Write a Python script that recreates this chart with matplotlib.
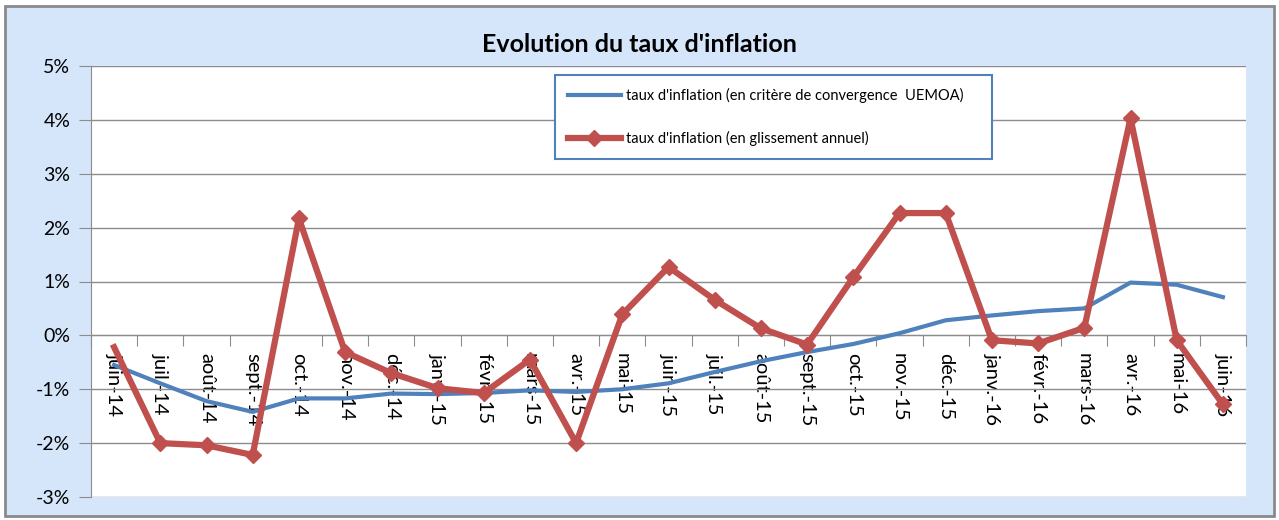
import matplotlib
matplotlib.use("Agg")
import matplotlib.pyplot as plt
from matplotlib.patches import Rectangle
from matplotlib.legend_handler import HandlerLine2D
from matplotlib.ticker import FuncFormatter

plt.rcParams['font.family'] = ['Lato', 'DejaVu Sans']

months = ["juin-14", "juil.-14", "août-14", "sept.-14", "oct.-14", "nov.-14", "déc.-14",
          "janv.-15", "févr.-15", "mars-15", "avr.-15", "mai-15", "juin-15", "juil.-15",
          "août-15", "sept.-15", "oct.-15", "nov.-15", "déc.-15", "janv.-16", "févr.-16",
          "mars-16", "avr.-16", "mai-16", "juin-16"]

# taux d'inflation, en %
convergence = [-0.55, -0.89, -1.22, -1.42, -1.17, -1.17, -1.08, -1.09, -1.07, -1.02,
               -1.05, -1.0, -0.89, -0.68, -0.48, -0.31, -0.16, 0.04, 0.28, 0.37,
               0.45, 0.5, 0.98, 0.94, 0.71]
glissement = [-0.22, -2.0, -2.04, -2.22, 2.17, -0.31, -0.7, -0.98, -1.07, -0.45,
              -2.0, 0.39, 1.27, 0.66, 0.13, -0.17, 1.08, 2.27, 2.27, -0.09,
              -0.15, 0.14, 4.03, -0.09, -1.28]

label_conv = "taux d'inflation (en critère de convergence  UEMOA)"
label_gliss = "taux d'inflation (en glissement annuel)"


class EndMarker(HandlerLine2D):
    # marker drawn at the right end of the legend line, like excel
    def get_xdata(self, legend, xdescent, ydescent, width, height, fontsize):
        xdata, _ = super().get_xdata(legend, xdescent, ydescent, width, height, fontsize)
        return xdata, [xdata[-1]]


fig = plt.figure(figsize=(12.79, 5.20), dpi=100)
fig.patch.set_facecolor('white')
fig.add_artist(Rectangle((5 / 1279, 4 / 520), 1269 / 1279, 510 / 520,
                         transform=fig.transFigure, facecolor='#D5E6FB',
                         edgecolor='#8A8A8A', lw=2, zorder=-5))

ax = fig.add_axes([91 / 1279, 23 / 520, 1155 / 1279, 431 / 520])
ax.set_facecolor('white')

x = list(range(len(months)))
ax.plot(x, convergence, color='#4F81BD', lw=3, zorder=3, label=label_conv)
ax.plot(x, glissement, color='#C0504D', lw=4.5, marker='D', ms=8.5,
        markevery=list(range(1, len(months))), zorder=4, label=label_gliss)

ax.set_xlim(-0.5, len(months) - 0.5)
ax.set_ylim(-3, 5)
ax.set_yticks(range(-3, 6))
ax.yaxis.set_major_formatter(FuncFormatter(lambda v, p: f"{v:.0f}%"))
ax.grid(axis='y', color='#8C8C8C', lw=1)
ax.set_axisbelow(True)

for s in ['top', 'right']:
    ax.spines[s].set_visible(False)
ax.spines['left'].set_color('#8C8C8C')
ax.spines['bottom'].set_color('#8C8C8C')
ax.spines['bottom'].set_position(('data', 0))

ax.tick_params(axis='y', length=9, color='#8C8C8C', labelsize=14, pad=6)
ax.set_xticks([i + 0.5 for i in range(-1, len(months))])
ax.set_xticklabels([])
ax.tick_params(axis='x', which='major', length=8, color='#8C8C8C')
ax.set_xticks(x, minor=True)
ax.set_xticklabels(months, minor=True, rotation=-90, fontsize=14.5)
ax.tick_params(axis='x', which='minor', length=0, pad=13)

fig.text(0.5, 1 - 45 / 520, "Evolution du taux d'inflation", fontsize=18,
         fontweight='bold', ha='center', va='center')

leg = ax.legend(loc='upper left', bbox_to_anchor=(0.4017, 0.777, 0.378, 0.202), mode='expand',
                fontsize=10.5, frameon=True, fancybox=False, framealpha=1,
                edgecolor='#4F81BD', borderpad=0.9, labelspacing=1.9,
                handlelength=3.6, handletextpad=0.4, borderaxespad=0,
                handler_map={ax.lines[1]: EndMarker(numpoints=1)})
leg.get_frame().set_linewidth(1.5)

fig.savefig("out.png", dpi=100)
